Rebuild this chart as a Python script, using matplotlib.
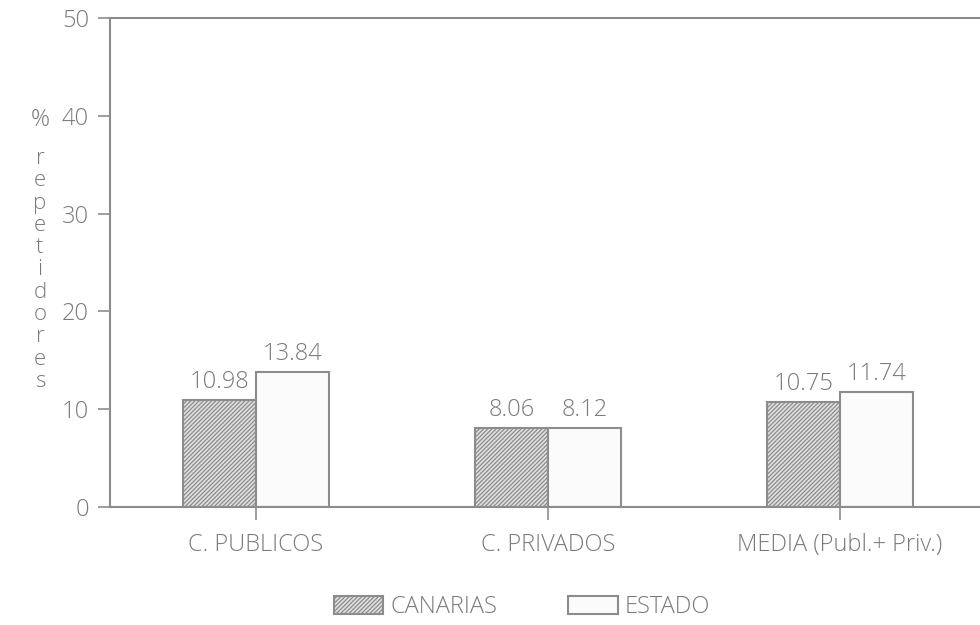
import matplotlib.pyplot as plt
from matplotlib.patches import Patch
import numpy as np

plt.rcParams['font.family'] = ['Open Sans', 'DejaVu Sans']
plt.rcParams['hatch.color'] = '#777777'
plt.rcParams['hatch.linewidth'] = 0.9

grupos = ["C. PUBLICOS", "C. PRIVADOS", "MEDIA (Publ.+ Priv.)"]
canarias = [10.98, 8.06, 10.75]
estado = [13.84, 8.12, 11.74]
etiquetas_can = ["10.98", "8.06", "10.75"]
etiquetas_est = ["13.84", "8.12", "11.74"]

gris = '#8c8c8c'
texto = '#7a7a7a'
fs = 17

fig = plt.figure(figsize=(9.8, 6.25), dpi=100)
ax = fig.add_axes([0.1122, 0.1888, 0.8878, 0.7824])

x = np.arange(len(grupos))
w = 0.25
ax.bar(x - w / 2, canarias, w, color='#e0e0e0', edgecolor=gris,
       hatch='////////', linewidth=1.5)
ax.bar(x + w / 2, estado, w, color='#fbfbfb', edgecolor=gris, linewidth=1.5)

for xi, v, t in zip(x - w / 2, canarias, etiquetas_can):
    ax.text(xi, v + 0.6, t, ha='center', va='bottom', fontsize=fs,
            color=texto, fontweight='light')
for xi, v, t in zip(x + w / 2, estado, etiquetas_est):
    ax.text(xi, v + 0.6, t, ha='center', va='bottom', fontsize=fs,
            color=texto, fontweight='light')

ax.set_xlim(-0.5, 2.48)
ax.set_ylim(0, 50)
ax.set_yticks([0, 10, 20, 30, 40, 50])
ax.set_xticks(x)
ax.set_xticklabels(grupos)
ax.tick_params(axis='both', colors=gris, labelcolor=texto, labelsize=fs,
               length=9, width=1.2, direction='out')
ax.tick_params(axis='x', pad=10)
ax.tick_params(axis='y', pad=6)
for lab in ax.get_xticklabels() + ax.get_yticklabels():
    lab.set_fontweight('light')

for s in ['left', 'bottom', 'top']:
    ax.spines[s].set_color(gris)
    ax.spines[s].set_linewidth(1.5)
ax.spines['right'].set_visible(False)

# etiqueta vertical del eje y
fig.text(40 / 980, 1 - 120 / 625, "%", ha='center', va='center',
         fontsize=fs, color=texto, fontweight='light')
fig.text(40 / 980, 1 - 148 / 625, "\n".join("repetidores"), ha='center',
         va='top', fontsize=16, color=texto, fontweight='light',
         linespacing=1.08)

handles = [Patch(facecolor='#e0e0e0', edgecolor=gris, hatch='////////',
                 linewidth=1.5, label='CANARIAS'),
           Patch(facecolor='#fbfbfb', edgecolor=gris, linewidth=1.5,
                 label='ESTADO')]
leg = fig.legend(handles=handles, loc='center', ncol=2,
                 bbox_to_anchor=(522 / 980, 1 - 607 / 625), frameon=False,
                 fontsize=fs, handlelength=2.1, handleheight=0.8,
                 handletextpad=0.3, columnspacing=3.0)
for t in leg.get_texts():
    t.set_color(texto)
    t.set_fontweight('light')

fig.savefig('out.png', dpi=100, facecolor='white')
